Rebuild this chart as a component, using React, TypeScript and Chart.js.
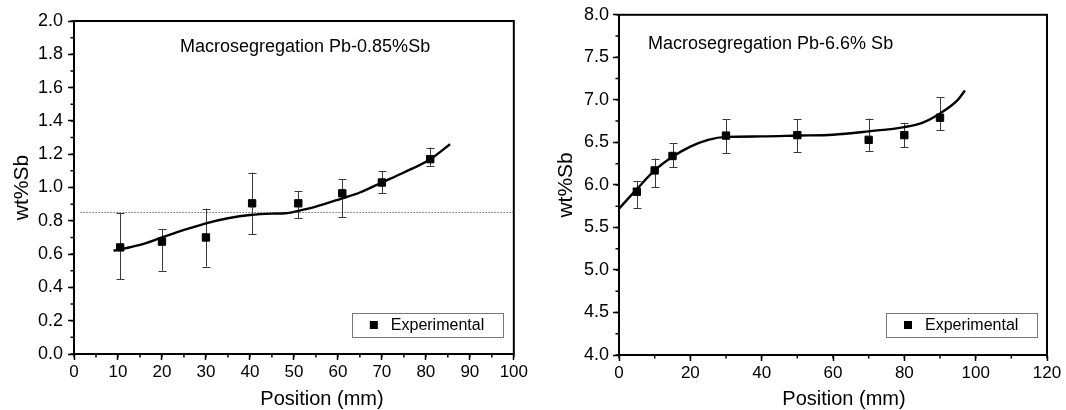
import React, { useEffect, useRef } from "react";
import { Chart, registerables } from "chart.js";

Chart.register(...registerables);

// ---------- Left panel data (Pb-0.85%Sb) ----------
const leftX = [10.5, 20, 30, 40.5, 51, 61, 70, 81];
const leftY = [0.64, 0.675, 0.7, 0.905, 0.905, 0.965, 1.03, 1.17];
const leftErrHigh = [0.845, 0.75, 0.873, 1.09, 0.98, 1.05, 1.1, 1.24];
const leftErrLow = [0.45, 0.5, 0.525, 0.72, 0.815, 0.82, 0.965, 1.13];
const leftFitX = [9, 15, 20, 25, 30, 35, 40, 45, 48, 51, 55, 61, 65, 70, 75, 81, 85.5];
const leftFitY = [0.62, 0.655, 0.7, 0.745, 0.785, 0.815, 0.835, 0.843, 0.845, 0.86, 0.885, 0.935, 0.97, 1.03, 1.09, 1.17, 1.26];
const leftRefX = [1.5, 100];
const leftRefY = [0.85, 0.85];

// ---------- Right panel data (Pb-6.6% Sb) ----------
const rightX = [5, 10, 15, 30, 50, 70, 80, 90];
const rightY = [5.92, 6.17, 6.34, 6.58, 6.585, 6.53, 6.585, 6.79];
const rightErrHigh = [6.04, 6.31, 6.49, 6.77, 6.77, 6.78, 6.73, 7.03];
const rightErrLow = [5.73, 5.97, 6.21, 6.37, 6.385, 6.4, 6.44, 6.64];
const rightFitX = [0, 5, 10, 15, 20, 25, 30, 40, 50, 60, 70, 80, 85, 90, 95, 97];
const rightFitY = [5.72, 5.95, 6.17, 6.33, 6.45, 6.53, 6.565, 6.57, 6.58, 6.59, 6.63, 6.68, 6.73, 6.84, 7.0, 7.11];

// ---------- Text ----------
const leftTitle = "Macrosegregation Pb-0.85%Sb";
const rightTitle = "Macrosegregation Pb-6.6% Sb";
const xAxisTitle = "Position (mm)";
const yAxisTitle = "wt%Sb";
const legendLabel = "Experimental";

const FONT = "'Liberation Sans', Arial, Helvetica, sans-serif";

const decorPlugin = {
  id: "decor",
  beforeDatasetsDraw(chart: any, _a: any, o: any) {
    const { ctx } = chart;
    const xs = chart.scales.x;
    const ys = chart.scales.y;
    ctx.save();
    ctx.strokeStyle = "#3a3a3a";
    ctx.lineWidth = 1;
    for (let i = 0; i < o.px.length; i++) {
      const x = Math.round(xs.getPixelForValue(o.px[i])) + 0.5;
      const y1 = ys.getPixelForValue(o.hi[i]);
      const y2 = ys.getPixelForValue(o.lo[i]);
      ctx.beginPath();
      ctx.moveTo(x, y1);
      ctx.lineTo(x, y2);
      ctx.moveTo(x - 4, Math.round(y1) + 0.5);
      ctx.lineTo(x + 4, Math.round(y1) + 0.5);
      ctx.moveTo(x - 4, Math.round(y2) + 0.5);
      ctx.lineTo(x + 4, Math.round(y2) + 0.5);
      ctx.stroke();
    }
    ctx.restore();
  },
  afterDraw(chart: any, _a: any, o: any) {
    const { ctx, chartArea: ca } = chart;
    const xs = chart.scales.x;
    const ys = chart.scales.y;
    ctx.save();
    // frame
    ctx.strokeStyle = "#000";
    ctx.lineWidth = 2;
    ctx.strokeRect(ca.left, ca.top, ca.right - ca.left, ca.bottom - ca.top);
    // minor ticks
    ctx.lineWidth = 1.5;
    ctx.beginPath();
    for (let v = xs.min; v <= xs.max + 1e-9; v += o.minorX) {
      const x = xs.getPixelForValue(v);
      ctx.moveTo(x, ca.bottom);
      ctx.lineTo(x, ca.bottom + 3.5);
    }
    for (let v = ys.min; v <= ys.max + 1e-9; v += o.minorY) {
      const y = ys.getPixelForValue(v);
      ctx.moveTo(ca.left, y);
      ctx.lineTo(ca.left - 3.5, y);
    }
    ctx.stroke();
    // inner title
    ctx.fillStyle = "#000";
    ctx.font = `18px ${FONT}`;
    ctx.textAlign = "left";
    ctx.textBaseline = "alphabetic";
    ctx.fillText(o.title, ca.left + o.titleDx, ca.top + o.titleDy);
    // axis titles
    ctx.font = `20px ${FONT}`;
    ctx.textAlign = "center";
    ctx.fillText(xAxisTitle, o.xTitleX, o.xTitleY);
    ctx.save();
    ctx.font = `21px ${FONT}`;
    ctx.translate(o.yTitleX, (ca.top + ca.bottom) / 2);
    ctx.rotate(-Math.PI / 2);
    ctx.textBaseline = "middle";
    ctx.fillText(yAxisTitle, 0, 0);
    ctx.restore();
    // legend box
    const bw = 151;
    const bh = 24;
    const bx = ca.right - o.legendDx - bw;
    const by = ca.bottom - o.legendDy - bh;
    ctx.strokeStyle = "#777";
    ctx.lineWidth = 1;
    ctx.strokeRect(Math.round(bx) + 0.5, Math.round(by) + 0.5, bw, bh);
    ctx.fillStyle = "#000";
    ctx.fillRect(bx + 18, by + 8, 8, 8);
    ctx.font = `16px ${FONT}`;
    ctx.textAlign = "left";
    ctx.textBaseline = "middle";
    ctx.fillText(legendLabel, bx + 39, by + bh / 2 + 0.5);
    ctx.restore();
  },
};

function makeConfig(p: any) {
  return {
    type: "scatter",
    data: {
      datasets: [
        ...(p.refX
          ? [
              {
                type: "line",
                data: p.refX.map((x: number, i: number) => ({ x, y: p.refY[i] })),
                borderColor: "#222",
                borderWidth: 1,
                borderDash: [1, 2],
                pointRadius: 0,
                showLine: true,
                fill: false,
              },
            ]
          : []),
        {
          type: "line",
          data: p.fitX.map((x: number, i: number) => ({ x, y: p.fitY[i] })),
          borderColor: "#000",
          borderWidth: 2.4,
          pointRadius: 0,
          cubicInterpolationMode: "monotone",
          showLine: true,
          fill: false,
        },
        {
          type: "scatter",
          data: p.px.map((x: number, i: number) => ({ x, y: p.py[i] })),
          pointStyle: "rect",
          pointRadius: 5.2,
          backgroundColor: "#000",
          borderColor: "#000",
          borderWidth: 1,
        },
      ],
    },
    options: {
      animation: false,
      responsive: false,
      events: [],
      layout: { padding: { left: 0, right: p.padRight, top: p.padTop, bottom: 0 } },
      plugins: {
        legend: { display: false },
        tooltip: { enabled: false },
        decor: {
          px: p.px,
          hi: p.hi,
          lo: p.lo,
          minorX: p.minorX,
          minorY: p.minorY,
          title: p.title,
          titleDx: p.titleDx,
          titleDy: p.titleDy,
          xTitleX: p.xTitleX,
          xTitleY: 405,
          yTitleX: p.yTitleX,
          legendDx: p.legendDx,
          legendDy: p.legendDy,
        },
      },
      scales: {
        x: {
          type: "linear",
          min: p.xMin,
          max: p.xMax,
          afterFit: (s: any) => {
            s.height = p.xAxisH;
          },
          ticks: {
            stepSize: p.xStep,
            color: "#000",
            font: { family: FONT, size: 17 },
            padding: 2,
            maxRotation: 0,
          },
          grid: {
            drawOnChartArea: false,
            drawTicks: true,
            tickLength: 6,
            tickColor: "#000",
            tickWidth: 1.5,
          },
          border: { display: true, color: "#000", width: 2 },
        },
        y: {
          type: "linear",
          min: p.yMin,
          max: p.yMax,
          afterFit: (s: any) => {
            s.width = p.yAxisW;
          },
          ticks: {
            stepSize: p.yStep,
            color: "#000",
            font: { family: FONT, size: 18 },
            padding: p.yPad,
            callback: (v: any) => Number(v).toFixed(1),
          },
          grid: {
            drawOnChartArea: false,
            drawTicks: true,
            tickLength: 6,
            tickColor: "#000",
            tickWidth: 1.5,
          },
          border: { display: true, color: "#000", width: 2 },
        },
      },
    },
    plugins: [decorPlugin],
  };
}

function Panel({ params, left, width }: any) {
  const ref = useRef<HTMLCanvasElement>(null);
  useEffect(() => {
    if (!ref.current) return;
    const chart = new Chart(ref.current, makeConfig(params) as any);
    return () => chart.destroy();
  }, []);
  return (
    <canvas
      ref={ref}
      width={width}
      height={410}
      style={{ position: "absolute", left, top: 0, width, height: 410 }}
    />
  );
}

const leftParams = {
  px: leftX,
  py: leftY,
  hi: leftErrHigh,
  lo: leftErrLow,
  fitX: leftFitX,
  fitY: leftFitY,
  refX: leftRefX,
  refY: leftRefY,
  xMin: 0,
  xMax: 100,
  xStep: 10,
  minorX: 5,
  yMin: 0,
  yMax: 2,
  yStep: 0.2,
  minorY: 0.1,
  padRight: 9,
  padTop: 21,
  xAxisH: 56,
  yAxisW: 74,
  yPad: 5,
  title: leftTitle,
  titleDx: 106,
  titleDy: 31,
  xTitleX: 322,
  yTitleX: 22,
  legendDx: 11,
  legendDy: 17,
};

const rightParams = {
  px: rightX,
  py: rightY,
  hi: rightErrHigh,
  lo: rightErrLow,
  fitX: rightFitX,
  fitY: rightFitY,
  refX: null,
  refY: null,
  xMin: 0,
  xMax: 120,
  xStep: 20,
  minorX: 10,
  yMin: 4,
  yMax: 8,
  yStep: 0.5,
  minorY: 0.25,
  padRight: 19,
  padTop: 13,
  xAxisH: 55,
  yAxisW: 89,
  yPad: 4,
  title: rightTitle,
  titleDx: 29,
  titleDy: 34,
  xTitleX: 844 - 530,
  yTitleX: 566 - 530,
  legendDx: 10,
  legendDy: 18,
};

export default function App() {
  return (
    <div style={{ position: "absolute", left: 0, top: 0, width: 1066, height: 410, background: "#fff" }}>
      <Panel params={leftParams} left={0} width={530} />
      <Panel params={rightParams} left={530} width={536} />
    </div>
  );
}
